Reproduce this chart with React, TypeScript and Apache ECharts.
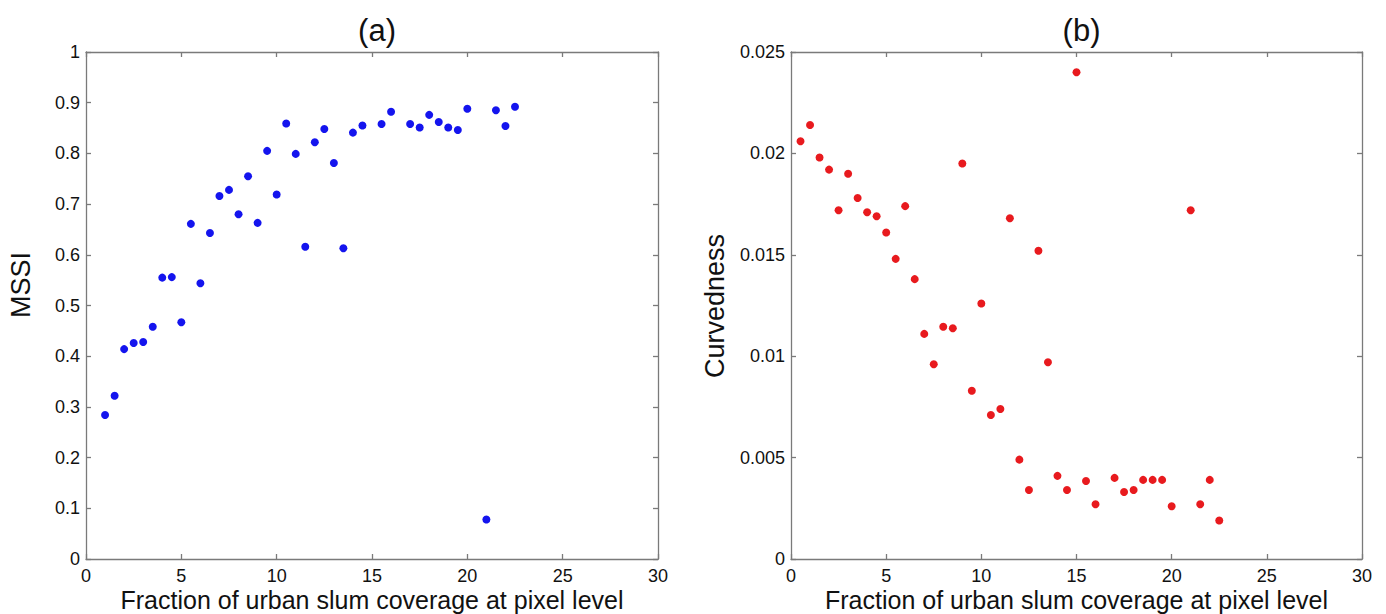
import React, { useEffect, useRef } from "react";
import * as echarts from "echarts";

const xA: number[] = [1, 1.5, 2, 2.5, 3, 3.5, 4, 4.5, 5, 5.5, 6, 6.5, 7, 7.5, 8, 8.5, 9, 9.5, 10, 10.5, 11, 11.5, 12, 12.5, 13, 13.5, 14, 14.5, 15.5, 16, 17, 17.5, 18, 18.5, 19, 19.5, 20, 21, 21.5, 22, 22.5];
const mssi: number[] = [0.284, 0.322, 0.414, 0.426, 0.428, 0.458, 0.555, 0.556, 0.467, 0.661, 0.544, 0.643, 0.716, 0.728, 0.68, 0.755, 0.663, 0.805, 0.719, 0.859, 0.799, 0.616, 0.822, 0.848, 0.781, 0.613, 0.841, 0.855, 0.858, 0.882, 0.858, 0.851, 0.876, 0.862, 0.851, 0.846, 0.888, 0.078, 0.885, 0.854, 0.892];

const xB: number[] = [0.5, 1, 1.5, 2, 2.5, 3, 3.5, 4, 4.5, 5, 5.5, 6, 6.5, 7, 7.5, 8, 8.5, 9, 9.5, 10, 10.5, 11, 11.5, 12, 12.5, 13, 13.5, 14, 14.5, 15, 15.5, 16, 17, 17.5, 18, 18.5, 19, 19.5, 20, 21, 21.5, 22, 22.5];
const curvedness: number[] = [0.0206, 0.0214, 0.0198, 0.0192, 0.0172, 0.019, 0.0178, 0.0171, 0.0169, 0.0161, 0.0148, 0.0174, 0.0138, 0.0111, 0.0096, 0.01145, 0.01138, 0.0195, 0.0083, 0.0126, 0.0071, 0.0074, 0.0168, 0.0049, 0.0034, 0.0152, 0.0097, 0.0041, 0.0034, 0.024, 0.00385, 0.0027, 0.004, 0.0033, 0.0034, 0.0039, 0.0039, 0.0039, 0.0026, 0.0172, 0.0027, 0.0039, 0.0019];

const titles = ["(a)", "(b)"];
const xName = "Fraction of urban slum coverage at pixel level";
const yNames = ["MSSI", "Curvedness"];

const FONT = "'Liberation Sans', Arial, Helvetica, sans-serif";
const AX = "#7a7a7a";

export default function App() {
  const ref = useRef<HTMLDivElement>(null);
  useEffect(() => {
    if (!ref.current) return;
    const chart = echarts.init(ref.current, null, { renderer: "svg" });
    const grids = [
      { left: 86, top: 52, width: 572, height: 507, outerBoundsMode: "none", containLabel: false },
      { left: 791, top: 52, width: 571, height: 507, outerBoundsMode: "none", containLabel: false },
    ];
    const xAxes: any[] = [];
    const yAxes: any[] = [];
    const yCfg = [
      { min: 0, max: 1, interval: 0.1, fmt: (v: number) => (v === 0 ? "0" : v === 1 ? "1" : String(+v.toFixed(1))) },
      { min: 0, max: 0.025, interval: 0.005, fmt: (v: number) => (v === 0 ? "0" : String(+v.toFixed(3))) },
    ];
    for (let i = 0; i < 2; i++) {
      const line = { show: true, onZero: false, lineStyle: { color: AX, width: 1.3 } };
      const tick = { show: true, inside: true, length: 5, lineStyle: { color: AX, width: 1.3 } };
      xAxes.push({
        type: "value", gridIndex: i, min: 0, max: 30, interval: 5, position: "bottom",
        axisLine: line, axisTick: tick, splitLine: { show: false },
        axisLabel: { color: "#111", fontSize: 18, fontFamily: FONT, margin: 8 },
      });
      xAxes.push({
        type: "value", gridIndex: i, min: 0, max: 30, interval: 5, position: "top",
        axisLine: line, axisTick: tick, splitLine: { show: false }, axisLabel: { show: false },
      });
      yAxes.push({
        type: "value", gridIndex: i, min: yCfg[i].min, max: yCfg[i].max, interval: yCfg[i].interval, position: "left",
        axisLine: line, axisTick: tick, splitLine: { show: false },
        axisLabel: { color: "#111", fontSize: 18, fontFamily: FONT, margin: 6, formatter: yCfg[i].fmt },
      });
      yAxes.push({
        type: "value", gridIndex: i, min: yCfg[i].min, max: yCfg[i].max, interval: yCfg[i].interval, position: "right",
        axisLine: line, axisTick: tick, splitLine: { show: false }, axisLabel: { show: false },
      });
    }
    const yNamePos = [
      { x: 21, y: 285 },
      { x: 715, y: 306 },
    ];
    const textStyle = (text: string, size: number) => ({
      text,
      fontSize: size,
      fontFamily: FONT,
      fill: "#111",
      align: "center",
      verticalAlign: "middle",
      textAlign: "center",
      textVerticalAlign: "middle",
    });
    const graphics: any[] = [];
    yNames.forEach((n, i) => {
      graphics.push({ type: "text", x: yNamePos[i].x, y: yNamePos[i].y, rotation: Math.PI / 2, style: textStyle(n, 27) });
    });
    grids.forEach((g) => {
      graphics.push({ type: "text", x: g.left + g.width / 2, y: 600, style: textStyle(xName, 25) });
    });
    chart.setOption({
      animation: false,
      backgroundColor: "#ffffff",
      title: titles.map((t, i) => ({
        text: t,
        left: grids[i].left + grids[i].width / 2,
        textAlign: "center",
        top: 10,
        textStyle: { fontSize: 31, fontWeight: "normal", color: "#111", fontFamily: FONT },
      })),
      graphic: graphics,
      grid: grids,
      xAxis: xAxes,
      yAxis: yAxes,
      series: [
        {
          type: "scatter", xAxisIndex: 0, yAxisIndex: 0, symbolSize: 8,
          itemStyle: { color: "#1414ee", opacity: 1 },
          data: xA.map((x, k) => [x, mssi[k]]),
        },
        {
          type: "scatter", xAxisIndex: 2, yAxisIndex: 2, symbolSize: 8,
          itemStyle: { color: "#e81a1e", opacity: 1 },
          data: xB.map((x, k) => [x, curvedness[k]]),
        },
      ],
    });
    return () => chart.dispose();
  }, []);
  return (
    <div
      ref={ref}
      style={{ position: "absolute", left: 0, top: 0, width: 1386, height: 614, background: "#fff" }}
    />
  );
}
